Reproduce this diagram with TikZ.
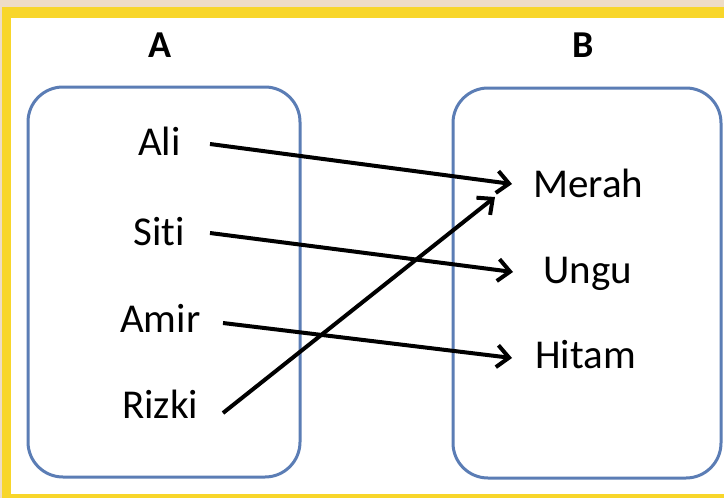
\documentclass[tikz,border=0pt]{standalone}
\usepackage{fontspec}
\setmainfont[Ligatures=NoCommon]{Carlito}
\usetikzlibrary{arrows.meta}
\definecolor{beige}{HTML}{EEDCC6}
\definecolor{frameyellow}{HTML}{F8D62A}
\definecolor{setblue}{HTML}{5B7DB5}
\begin{document}
\begin{tikzpicture}[x=1pt,y=-1pt,
  setbox/.style={draw=setblue, line width=3pt, rounded corners=35pt},
  item/.style={font=\fontsize{41}{41}\selectfont, inner sep=0pt, anchor=base west},
  head/.style={font=\bfseries\fontsize{38}{38}\selectfont, inner sep=0pt, anchor=base},
  map/.style={line width=4pt, -{Straight Barb[length=12pt,width=22pt]}}]
\useasboundingbox (0,0) rectangle (724,498);
\fill[beige] (0,0) rectangle (724,498);
\fill[frameyellow] (2,7) rectangle (724,498);
\fill[white] (11,18) rectangle (724,494);
% sets
\draw[setbox] (28,87) rectangle (300,477);
\draw[setbox] (453,88) rectangle (721,478);
\node[head] (la) at (160,57) {A};
\node[head] (lb) at (583,57) {B};
% elements
\node[item] (ali) at (138,155) {Ali};
\node[item] (siti) at (133,245) {Siti};
\node[item] (amir) at (120,332) {Amir};
\node[item] (rizki) at (122,418) {Rizki};
\node[item] (merah) at (533,197) {Merah};
\node[item] (ungu) at (543,283) {Ungu};
\node[item] (hitam) at (535,368) {Hitam};
% mapping
\draw[map] ([shift={(72,-11)}]ali.base west) -- ([shift={(-21,-13)}]merah.base west);
\draw[map] ([shift={(77,-12)}]siti.base west) -- ([shift={(-30,-11)}]ungu.base west);
\draw[map] ([shift={(103,-9)}]amir.base west) -- ([shift={(-23,-10)}]hitam.base west);
\draw[map] ([shift={(101,-5)}]rizki.base west) -- ([shift={(-38,0)}]merah.base west);
\end{tikzpicture}
\end{document}
